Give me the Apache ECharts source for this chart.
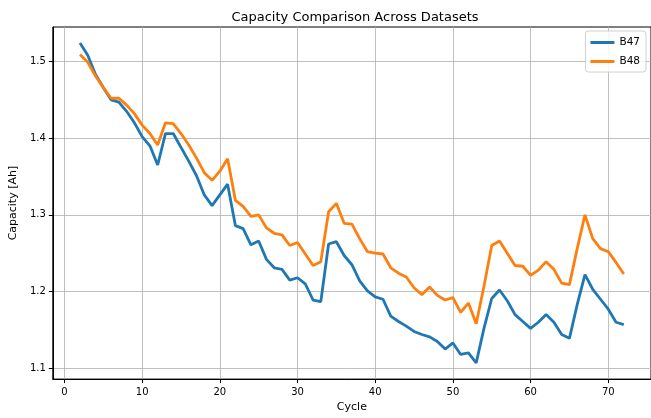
<!DOCTYPE html>
<html>
<head>
<meta charset="utf-8">
<script src="https://cdn.jsdelivr.net/npm/echarts@6/dist/echarts.min.js"></script>
<style>html,body{margin:0;padding:0;background:#fff}#c{width:651px;height:418px}</style>
</head>
<body>
<div id="c"></div>
<script>
const cycles = [];
for (let c = 2; c <= 72; c++) cycles.push(c);

const b47 = [1.524,1.508,1.483,1.466,1.450,1.447,1.435,1.420,1.402,1.390,
  1.365,1.406,1.406,1.388,1.370,1.351,1.326,1.312,1.326,1.340,
  1.286,1.282,1.261,1.266,1.242,1.231,1.229,1.215,1.218,1.210,
  1.189,1.187,1.262,1.265,1.247,1.235,1.214,1.201,1.193,1.190,
  1.168,1.161,1.155,1.148,1.144,1.141,1.135,1.125,1.133,1.118,
  1.120,1.107,1.152,1.191,1.202,1.188,1.170,1.161,1.152,1.160,
  1.170,1.160,1.144,1.139,1.183,1.222,1.203,1.190,1.177,1.160,1.157];

const b48 = [1.509,1.499,1.481,1.466,1.452,1.452,1.443,1.432,1.417,1.406,
  1.391,1.420,1.419,1.406,1.391,1.374,1.355,1.345,1.357,1.373,
  1.319,1.311,1.298,1.300,1.283,1.276,1.274,1.260,1.264,1.249,
  1.234,1.239,1.304,1.315,1.289,1.288,1.269,1.252,1.250,1.249,
  1.231,1.224,1.219,1.205,1.196,1.206,1.195,1.189,1.192,1.173,
  1.185,1.158,1.207,1.260,1.266,1.250,1.234,1.233,1.221,1.228,
  1.239,1.229,1.211,1.209,1.256,1.300,1.269,1.256,1.252,1.238,1.223];

const xTicks = [0,10,20,30,40,50,60,70];
const yTicks = [1.1,1.2,1.3,1.4,1.5];

const FONT = 'DejaVu Sans';
const chart = echarts.init(document.getElementById('c'), null, {renderer:'canvas'});

const tickStyle = {show: true, inside: false, length: 4, lineStyle: {color: '#000', width: 1}};
const gridLine = {show: true, lineStyle: {color: '#b0b0b0', width: 0.8}};

chart.setOption({
  animation: false,
  backgroundColor: '#fff',
  title: {
    text: 'Capacity Comparison Across Datasets',
    left: 350, top: 6, textAlign: 'center',
    textStyle: {fontFamily: FONT, fontSize: 13, fontWeight: 'normal', color: '#000'}
  },
  grid: {left: 50, right: 0, top: 27, bottom: 34, show: true, borderColor: '#000', borderWidth: 1, containLabel: false},
  legend: {
    data: ['B47','B48'], orient: 'vertical', right: 5, top: 31,
    icon: 'rect', itemWidth: 24, itemHeight: 3, itemGap: 8,
    backgroundColor: 'rgba(255,255,255,0.85)', borderColor: '#d0d0d0', borderWidth: 1, borderRadius: 3,
    padding: [6, 6, 5, 5],
    textStyle: {fontFamily: FONT, fontSize: 10.5, color: '#000'}
  },
  xAxis: {
    type: 'value', min: -1.5, max: 75.5,
    name: 'Cycle', nameLocation: 'middle', nameGap: 21,
    nameTextStyle: {fontFamily: FONT, fontSize: 11, color: '#000'},
    axisLine: {show: true, onZero: false, lineStyle: {color: '#000', width: 1}},
    axisTick: Object.assign({}, tickStyle, {customValues: xTicks}),
    axisLabel: {customValues: xTicks, fontFamily: FONT, fontSize: 10, color: '#000', margin: 8},
    splitLine: gridLine
  },
  yAxis: {
    type: 'value', min: 1.0859, max: 1.5449,
    name: 'Capacity [Ah]', nameLocation: 'middle', nameGap: 30,
    nameTextStyle: {fontFamily: FONT, fontSize: 11, color: '#000'},
    axisLine: {show: true, onZero: false, lineStyle: {color: '#000', width: 1}},
    axisTick: Object.assign({}, tickStyle, {customValues: yTicks}),
    axisLabel: {customValues: yTicks, fontFamily: FONT, fontSize: 10, color: '#000', margin: 7,
      formatter: v => v.toFixed(1)},
    splitLine: gridLine
  },
  series: [
    {name: 'B47', type: 'line', showSymbol: false, symbol: 'none', color: '#1f77b4',
     lineStyle: {width: 2.8, color: '#1f77b4'}, data: cycles.map((c,i)=>[c,b47[i]])},
    {name: 'B48', type: 'line', showSymbol: false, symbol: 'none', color: '#ff7f0e',
     lineStyle: {width: 2.8, color: '#ff7f0e'}, data: cycles.map((c,i)=>[c,b48[i]])}
  ]
});
</script>
</body>
</html>
